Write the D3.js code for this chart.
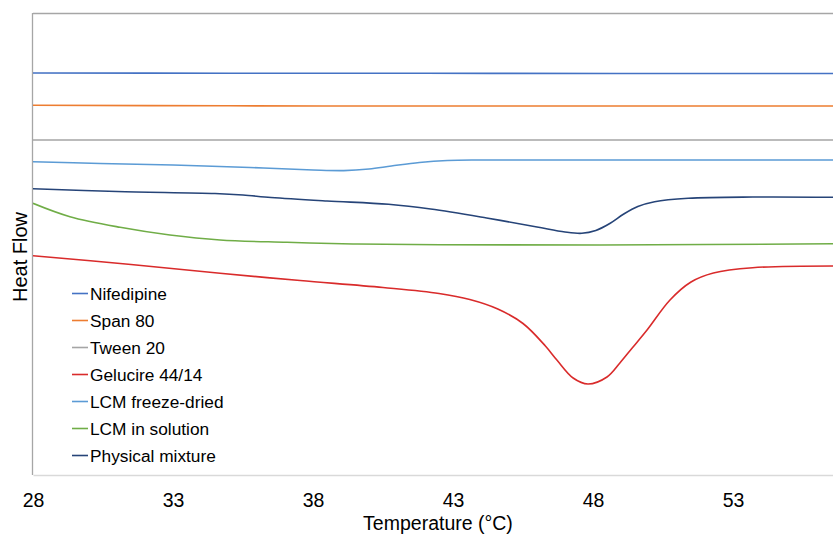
<!DOCTYPE html>
<html>
<head>
<meta charset="utf-8">
<script src="https://cdn.jsdelivr.net/npm/d3@7"></script>
<style>
  html, body { margin: 0; padding: 0; background: #fff; }
  svg { display: block; font-family: "Liberation Sans", Arial, sans-serif; }
</style>
</head>
<body>
<svg id="chart" width="833" height="534"></svg>
<script>
// ---- Data (temperature in °C, heat flow in arbitrary units, offset curves) ----
const seriesNames = ["Nifedipine", "Span 80", "Tween 20", "Gelucire 44/14", "LCM freeze-dried", "LCM in solution", "Physical mixture"];
const seriesColors = ["#4472C4", "#ED7D31", "#A5A5A5", "#D92B2B", "#5B9BD5", "#70AD47", "#264478"];

const nifedipineT = [28, 35, 42, 49, 57];
const nifedipineHF = [-6.00, -6.02, -6.03, -6.05, -6.05];

const span80T = [28, 35, 42, 49, 57];
const span80HF = [-9.23, -9.28, -9.30, -9.30, -9.30];

const tween20T = [28, 35, 42, 49, 57];
const tween20HF = [-12.70, -12.70, -12.70, -12.70, -12.70];

const gelucireT = [28, 31.5, 34.68, 37.54, 40.5, 42.5, 43.6, 44.6, 45.5, 46.3, 46.71, 47.29, 47.82, 48.5, 48.96, 49.4, 49.93, 50.75, 51.5, 52.3, 53.7, 57];
const gelucireHF = [-24.27, -25.15, -26.03, -26.75, -27.45, -28.05, -28.65, -29.60, -31.05, -33.30, -34.70, -36.50, -37.10, -36.40, -35.00, -33.50, -31.70, -28.70, -26.90, -26.00, -25.47, -25.30];

const freezeDriedT = [28, 30.4, 33, 35.75, 38, 39.1, 40.0, 40.8, 41.8, 42.8, 44, 50, 57];
const freezeDriedHF = [-14.87, -15.05, -15.20, -15.45, -15.70, -15.76, -15.60, -15.30, -14.95, -14.75, -14.70, -14.70, -14.70];

const solutionT = [28, 29.32, 31.11, 32.89, 34.68, 37.07, 39.43, 42.54, 48.25, 57];
const solutionHF = [-19.03, -20.37, -21.43, -22.20, -22.70, -22.93, -23.10, -23.17, -23.20, -23.07];

const physMixT = [28, 31, 34.5, 35.5, 36.5, 38.5, 40.7, 42.2, 44.2, 46, 47.0, 47.6, 48.1, 48.6, 49.1, 49.6, 50.2, 51.4, 53.7, 57];
const physMixHF = [-17.57, -17.85, -18.05, -18.20, -18.45, -18.80, -19.13, -19.60, -20.50, -21.40, -21.90, -22.03, -21.75, -21.05, -20.10, -19.35, -18.87, -18.53, -18.40, -18.43];

const xTicks = [28, 33, 38, 43, 48, 53];

// ---- Assemble series ----
const seriesT = [nifedipineT, span80T, tween20T, gelucireT, freezeDriedT, solutionT, physMixT];
const seriesHF = [nifedipineHF, span80HF, tween20HF, gelucireHF, freezeDriedHF, solutionHF, physMixHF];
const series = seriesNames.map((name, i) => ({
  name, color: seriesColors[i],
  points: seriesT[i].map((t, j) => ({ t, hf: seriesHF[i][j] }))
}));

// ---- Layout ----
const svg = d3.select("#chart");
const plotLeft = 33, plotTop = 13, plotBottom = 475;
const x = d3.scaleLinear().domain([28, 57]).range([plotLeft, plotLeft + 29 * 28]);
const y = d3.scaleLinear().domain([-46.2, 0]).range([plotBottom, plotTop]);

// plot frame
svg.append("line").attr("x1", plotLeft).attr("x2", 845).attr("y1", plotTop + 0.5).attr("y2", plotTop + 0.5)
  .attr("stroke", "#A6A6A6").attr("stroke-width", 1.3);
svg.append("line").attr("x1", plotLeft - 0.5).attr("x2", plotLeft - 0.5).attr("y1", plotTop).attr("y2", plotBottom)
  .attr("stroke", "#A6A6A6").attr("stroke-width", 1.3);

// x axis
const xAxis = d3.axisBottom(x).tickValues(xTicks).tickSize(0).tickPadding(18).tickFormat(d3.format("d"));
const gx = svg.append("g").attr("transform", `translate(0,${plotBottom})`).call(xAxis);
gx.select(".domain").attr("stroke", "#D9D9D9").attr("stroke-width", 1.3);
gx.selectAll("text").attr("font-size", "19.5px").attr("fill", "#000")
  .attr("font-family", "'Liberation Sans', Arial, sans-serif");

// axis titles
svg.append("text").attr("x", 438).attr("y", 529.5).attr("text-anchor", "middle")
  .attr("font-size", "19.5px").attr("fill", "#000").text("Temperature  (°C)");
svg.append("text").attr("transform", "translate(27,257) rotate(-90)").attr("text-anchor", "middle")
  .attr("font-size", "20px").attr("fill", "#000").text("Heat Flow");

// curves
const line = d3.line().x(d => x(d.t)).y(d => y(d.hf)).curve(d3.curveCatmullRom.alpha(0.5));
svg.append("defs").append("clipPath").attr("id", "plotclip")
  .append("rect").attr("x", plotLeft).attr("y", plotTop).attr("width", 900).attr("height", plotBottom - plotTop);
svg.append("g").attr("clip-path", "url(#plotclip)")
  .selectAll("path").data(series).join("path")
  .attr("d", d => line(d.points))
  .attr("fill", "none").attr("stroke", d => d.color).attr("stroke-width", 1.6)
  .attr("stroke-linejoin", "round");

// legend
const lg = svg.append("g");
const rows = lg.selectAll("g").data(series).join("g")
  .attr("transform", (d, i) => `translate(0,${293.5 + i * 27})`);
rows.append("line").attr("x1", 72).attr("x2", 88).attr("y1", 0).attr("y2", 0)
  .attr("stroke", d => d.color).attr("stroke-width", 1.6);
rows.append("text").attr("x", 90).attr("y", 0).attr("dy", "0.36em")
  .attr("font-size", "17.3px").attr("fill", "#000").text(d => d.name);
</script>
</body>
</html>
